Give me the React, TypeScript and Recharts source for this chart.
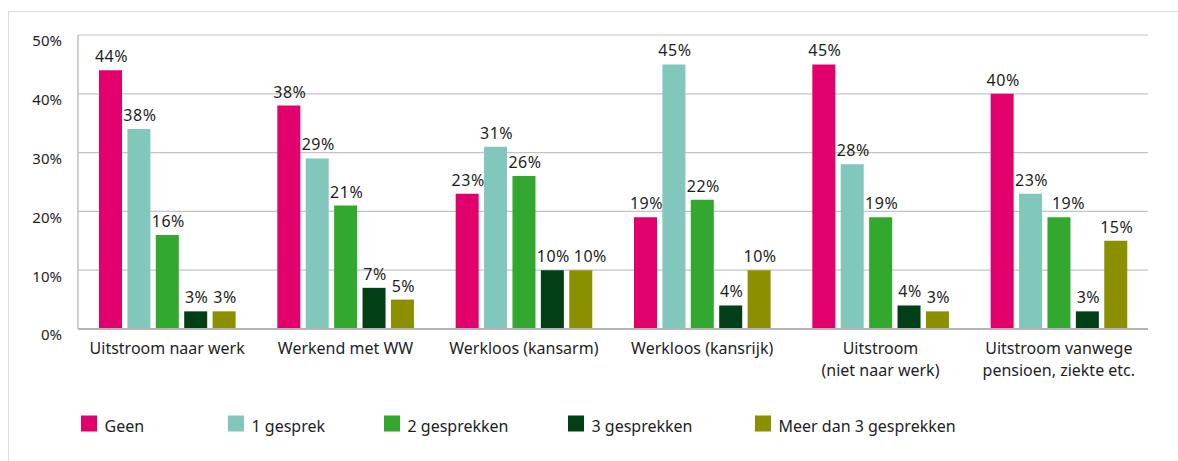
import React from 'react';
import { BarChart, Bar, XAxis, YAxis, CartesianGrid, LabelList, Legend } from 'recharts';

const categories = [
  'Uitstroom naar werk',
  'Werkend met WW',
  'Werkloos (kansarm)',
  'Werkloos (kansrijk)',
  'Uitstroom\n(niet naar werk)',
  'Uitstroom vanwege\npensioen, ziekte etc.',
];
const geen = [44, 38, 23, 19, 45, 40];
const eenGesprek = [34, 29, 31, 45, 28, 23];
const tweeGesprekken = [16, 21, 26, 22, 19, 19];
const drieGesprekken = [3, 7, 10, 4, 4, 3];
const meerGesprekken = [3, 5, 10, 10, 3, 15];
const eenGesprekLabels = ['38%', '29%', '31%', '45%', '28%', '23%'];
const yTicks = [0, 10, 20, 30, 40, 50];
const seriesNames = ['Geen', '1 gesprek', '2 gesprekken', '3 gesprekken', 'Meer dan 3 gesprekken'];
const seriesKeys = ['geen', 'een', 'twee', 'drie', 'meer'];
const seriesColors = ['#E2006D', '#82C7BB', '#33A82E', '#013F17', '#8A9000'];
const seriesValues = [geen, eenGesprek, tweeGesprekken, drieGesprekken, meerGesprekken];
const seriesLabels: (string[] | null)[] = [null, eenGesprekLabels, null, null, null];

const data = categories.map((c, i) => {
  const row: any = { name: c };
  seriesKeys.forEach((k, s) => {
    row[k] = seriesValues[s][i];
  });
  return row;
});

const FONT = '"Noto Sans", sans-serif';
const TEXT = '#1e1e1e';
const legendX = [81, 228, 384, 568, 755];
const BAR_GAP = 5.4;
const LABEL_SIZE = 16;
const LABEL_SPACING = 0.5;

const labelText = (s: number, i: number) => {
  const l = seriesLabels[s];
  return l ? l[i] : `${seriesValues[s][i]}%`;
};
const textWidth = (t: string) => {
  let w = 0;
  for (const ch of t) w += ch === '%' ? 0.823 : 0.572;
  return w * LABEL_SIZE + LABEL_SPACING * t.length;
};

const XTick = (props: any) => {
  const { x, y, payload } = props;
  const lines = String(payload.value).split('\n');
  return (
    <text x={x} y={y + 17} textAnchor="middle" fill={TEXT} fontSize={16} fontFamily={FONT}>
      {lines.map((l, i) => (
        <tspan key={i} x={x} dy={i === 0 ? 0 : 22}>
          {l}
        </tspan>
      ))}
    </text>
  );
};

const YTick = (props: any) => {
  const { x, y, payload } = props;
  return (
    <text x={x - 8} y={y + 11.3} textAnchor="end" fill={TEXT} fontSize={15} fontFamily={FONT}>
      {`${payload.value}%`}
    </text>
  );
};

const makeLabel = (s: number) => (props: any) => {
  const { x, y, width, height, index } = props;
  const value = seriesValues[s][index];
  const txt = labelText(s, index);
  const w = textWidth(txt);
  const cx = Number(x) + Number(width) / 2 + 1;
  let shift = 0;
  if (s > 0 && value > 0) {
    const pxPerUnit = Number(height) / value;
    const prevValue = seriesValues[s - 1][index];
    if (Math.abs(prevValue - value) * pxPerUnit < 25) {
      const prevCx = cx - Number(width) - BAR_GAP;
      const prevW = textWidth(labelText(s - 1, index));
      const overlap = prevCx + prevW / 2 + 4 - (cx - w / 2);
      if (overlap > 0) shift = overlap;
    }
  }
  return (
    <text
      x={cx + shift}
      y={Number(y) - 8}
      textAnchor="middle"
      fill={TEXT}
      fontSize={LABEL_SIZE}
      letterSpacing={LABEL_SPACING}
      fontFamily={FONT}
    >
      {txt}
    </text>
  );
};

const LegendContent = () => (
  <svg width={1178} height={70} style={{ display: 'block' }}>
    {seriesNames.map((n, i) => (
      <g key={n}>
        <rect x={legendX[i]} y={24.5} width={16} height={16} fill={seriesColors[i]} />
        <text x={legendX[i] + 23.5} y={40.5} fill={TEXT} fontSize={16} fontFamily={FONT}>
          {n}
        </text>
      </g>
    ))}
  </svg>
);

export default function App() {
  return (
    <div style={{ position: 'absolute', left: 0, top: 0, width: 1178, height: 461, background: '#fff' }}>
      <div
        style={{
          position: 'absolute',
          left: 8,
          top: 11,
          width: 1170,
          height: 450,
          borderTop: '1px solid #dcdcdc',
          borderLeft: '1px solid #dcdcdc',
          pointerEvents: 'none',
        }}
      />
      <BarChart
        width={1178}
        height={461}
        data={data}
        margin={{ top: 35, right: 30, left: 0, bottom: 0 }}
        barSize={23}
        barGap={BAR_GAP}
        style={{ fontFamily: FONT }}
      >
        <CartesianGrid vertical={false} stroke="#c4c4c4" strokeWidth={1.2} />
        <XAxis
          dataKey="name"
          height={62}
          tickLine={false}
          axisLine={{ stroke: '#b5b5b5', strokeWidth: 2 }}
          tick={<XTick />}
          interval={0}
        />
        <YAxis
          width={78}
          domain={[0, 50]}
          ticks={yTicks}
          tickLine={false}
          axisLine={{ stroke: '#c0c0c0', strokeWidth: 1.5 }}
          tick={<YTick />}
          interval={0}
        />
        <Legend
          verticalAlign="bottom"
          align="left"
          content={() => <LegendContent />}
          wrapperStyle={{ left: 0, bottom: 0, width: 1178, height: 70 }}
        />
        {seriesKeys.map((k, i) => (
          <Bar key={k} dataKey={k} name={seriesNames[i]} fill={seriesColors[i]} isAnimationActive={false}>
            <LabelList dataKey={k} content={makeLabel(i)} />
          </Bar>
        ))}
      </BarChart>
    </div>
  );
}
